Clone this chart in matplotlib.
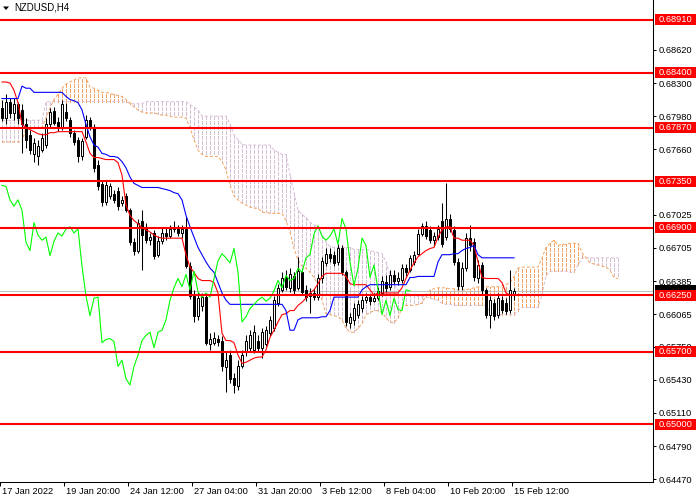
import numpy as np
import matplotlib
matplotlib.use("Agg")
import matplotlib.pyplot as plt
from matplotlib.patches import Rectangle, Polygon
from matplotlib.collections import LineCollection
import matplotlib.transforms as mtransforms

plt.rcParams['font.family'] = ['Liberation Sans', 'DejaVu Sans']

symbol = "NZDUSD,H4"

opens = [0.6806, 0.6796, 0.6812, 0.6801, 0.6810, 0.6804, 0.6790, 0.6780, 0.6761, 0.6759,
         0.6765, 0.6770, 0.6790, 0.6803, 0.6792, 0.6787, 0.6802, 0.6794, 0.6782, 0.6775,
         0.6759, 0.6778, 0.6794, 0.6787, 0.6751, 0.6732, 0.6715, 0.6721, 0.6723, 0.6726,
         0.6714, 0.6721, 0.6707, 0.6676, 0.6668, 0.6697, 0.6690, 0.6678, 0.6685, 0.6664,
         0.6677, 0.6685, 0.6682, 0.6689, 0.6690, 0.6685, 0.6689, 0.6653, 0.6624, 0.6605,
         0.6614, 0.6623, 0.6578, 0.6579, 0.6582, 0.6581, 0.6555, 0.6567, 0.6545, 0.6537,
         0.6556, 0.6570, 0.6574, 0.6572, 0.6581, 0.6574, 0.6578, 0.6588, 0.6593, 0.6617,
         0.6630, 0.6642, 0.6632, 0.6643, 0.6632, 0.6647, 0.6630, 0.6624, 0.6627, 0.6623,
         0.6641, 0.6656, 0.6665, 0.6664, 0.6657, 0.6670, 0.6647, 0.6598, 0.6601, 0.6606,
         0.6612, 0.6620, 0.6623, 0.6619, 0.6622, 0.6627, 0.6638, 0.6633, 0.6644, 0.6639,
         0.6640, 0.6651, 0.6649, 0.6657, 0.6665, 0.6684, 0.6692, 0.6688, 0.6678, 0.6681,
         0.6697, 0.6681, 0.6699, 0.6688, 0.6657, 0.6634, 0.6651, 0.6680, 0.6676, 0.6641,
         0.6654, 0.6630, 0.6606, 0.6617, 0.6606, 0.6620, 0.6617, 0.6611, 0.6626]

highs = [0.6814, 0.6819, 0.6816, 0.6816, 0.6812, 0.6810, 0.6796, 0.6785, 0.6777, 0.6775,
         0.6782, 0.6796, 0.6806, 0.6807, 0.6797, 0.6814, 0.6811, 0.6797, 0.6785, 0.6778,
         0.6777, 0.6799, 0.6797, 0.6790, 0.6756, 0.6735, 0.6735, 0.6733, 0.6727, 0.6729,
         0.6721, 0.6724, 0.6709, 0.6680, 0.6699, 0.6707, 0.6695, 0.6685, 0.6688, 0.6682,
         0.6690, 0.6690, 0.6693, 0.6697, 0.6693, 0.6693, 0.6700, 0.6657, 0.6630, 0.6628,
         0.6627, 0.6625, 0.6588, 0.6589, 0.6586, 0.6585, 0.6570, 0.6572, 0.6550, 0.6562,
         0.6572, 0.6586, 0.6591, 0.6596, 0.6586, 0.6593, 0.6595, 0.6605, 0.6624, 0.6636,
         0.6647, 0.6649, 0.6651, 0.6647, 0.6662, 0.6651, 0.6635, 0.6632, 0.6631, 0.6645,
         0.6662, 0.6670, 0.6670, 0.6668, 0.6674, 0.6673, 0.6649, 0.6608, 0.6617, 0.6620,
         0.6624, 0.6627, 0.6626, 0.6627, 0.6633, 0.6643, 0.6644, 0.6649, 0.6649, 0.6647,
         0.6655, 0.6655, 0.6664, 0.6668, 0.6689, 0.6695, 0.6697, 0.6692, 0.6686, 0.6693,
         0.6714, 0.6733, 0.6703, 0.6692, 0.6661, 0.6657, 0.6685, 0.6693, 0.6680, 0.6659,
         0.6657, 0.6632, 0.6624, 0.6621, 0.6627, 0.6624, 0.6622, 0.6649, 0.6632]

lows = [0.6793, 0.6790, 0.6796, 0.6794, 0.6790, 0.6762, 0.6767, 0.6761, 0.6754, 0.6751,
        0.6763, 0.6767, 0.6787, 0.6789, 0.6784, 0.6785, 0.6793, 0.6778, 0.6770, 0.6754,
        0.6756, 0.6776, 0.6785, 0.6744, 0.6727, 0.6711, 0.6712, 0.6718, 0.6714, 0.6707,
        0.6711, 0.6705, 0.6673, 0.6664, 0.6666, 0.6649, 0.6675, 0.6673, 0.6660, 0.6662,
        0.6674, 0.6678, 0.6680, 0.6686, 0.6682, 0.6680, 0.6651, 0.6621, 0.6599, 0.6601,
        0.6610, 0.6577, 0.6572, 0.6577, 0.6576, 0.6552, 0.6531, 0.6540, 0.6530, 0.6533,
        0.6554, 0.6566, 0.6570, 0.6569, 0.6570, 0.6564, 0.6576, 0.6585, 0.6590, 0.6614,
        0.6628, 0.6630, 0.6628, 0.6626, 0.6630, 0.6625, 0.6619, 0.6608, 0.6620, 0.6620,
        0.6637, 0.6653, 0.6657, 0.6653, 0.6654, 0.6644, 0.6595, 0.6593, 0.6596, 0.6603,
        0.6609, 0.6617, 0.6615, 0.6618, 0.6620, 0.6624, 0.6628, 0.6630, 0.6636, 0.6635,
        0.6637, 0.6643, 0.6647, 0.6654, 0.6664, 0.6682, 0.6679, 0.6675, 0.6672, 0.6678,
        0.6671, 0.6678, 0.6686, 0.6654, 0.6630, 0.6630, 0.6648, 0.6668, 0.6639, 0.6637,
        0.6625, 0.6603, 0.6593, 0.6601, 0.6603, 0.6608, 0.6607, 0.6608, 0.6620]

closes = [0.6796, 0.6812, 0.6801, 0.6810, 0.6796, 0.6790, 0.6775, 0.6765, 0.6772, 0.6769,
          0.6777, 0.6790, 0.6802, 0.6791, 0.6787, 0.6810, 0.6796, 0.6782, 0.6773, 0.6759,
          0.6774, 0.6794, 0.6788, 0.6748, 0.6730, 0.6715, 0.6731, 0.6730, 0.6717, 0.6711,
          0.6717, 0.6707, 0.6676, 0.6668, 0.6695, 0.6683, 0.6678, 0.6681, 0.6663, 0.6677,
          0.6685, 0.6682, 0.6689, 0.6691, 0.6685, 0.6689, 0.6653, 0.6624, 0.6605, 0.6622,
          0.6623, 0.6579, 0.6582, 0.6583, 0.6580, 0.6556, 0.6562, 0.6544, 0.6538, 0.6556,
          0.6567, 0.6581, 0.6586, 0.6589, 0.6574, 0.6589, 0.6591, 0.6601, 0.6620, 0.6632,
          0.6641, 0.6633, 0.6645, 0.6630, 0.6648, 0.6628, 0.6623, 0.6627, 0.6623, 0.6641,
          0.6658, 0.6665, 0.6661, 0.6656, 0.6670, 0.6647, 0.6599, 0.6604, 0.6612, 0.6616,
          0.6620, 0.6623, 0.6619, 0.6622, 0.6629, 0.6639, 0.6632, 0.6644, 0.6639, 0.6641,
          0.6651, 0.6647, 0.6661, 0.6664, 0.6684, 0.6692, 0.6682, 0.6678, 0.6682, 0.6689,
          0.6674, 0.6699, 0.6689, 0.6657, 0.6634, 0.6651, 0.6680, 0.6673, 0.6642, 0.6654,
          0.6630, 0.6606, 0.6620, 0.6605, 0.6622, 0.6611, 0.6610, 0.6630, 0.6629]

tenkan = [0.6831, 0.6831, 0.6830, 0.6823, 0.6811, 0.6790, 0.6787, 0.6785, 0.6783, 0.6781,
          0.6780, 0.6780, 0.6782, 0.6782, 0.6783, 0.6783, 0.6783, 0.6783, 0.6783, 0.6783,
          0.6783, 0.6773, 0.6762, 0.6758, 0.6758, 0.6757, 0.6756, 0.6756, 0.6756, 0.6753,
          0.6741, 0.6712, 0.6702, 0.6697, 0.6694, 0.6690, 0.6688, 0.6686, 0.6683, 0.6681,
          0.6680, 0.6680, 0.6680, 0.6680, 0.6680, 0.6680, 0.6664, 0.6652, 0.6647, 0.6641,
          0.6639, 0.6639, 0.6639, 0.6637, 0.6627, 0.6588, 0.6581, 0.6581, 0.6579, 0.6567,
          0.6559, 0.6560, 0.6562, 0.6564, 0.6565, 0.6565, 0.6572, 0.6584, 0.6591, 0.6599,
          0.6606, 0.6607, 0.6610, 0.6610, 0.6615, 0.6618, 0.6622, 0.6627, 0.6630, 0.6636,
          0.6643, 0.6646, 0.6646, 0.6646, 0.6646, 0.6646, 0.6643, 0.6636, 0.6635, 0.6635,
          0.6635, 0.6635, 0.6630, 0.6625, 0.6627, 0.6627, 0.6627, 0.6627, 0.6627, 0.6627,
          0.6632, 0.6641, 0.6649, 0.6656, 0.6662, 0.6665, 0.6668, 0.6670, 0.6671, 0.6681,
          0.6688, 0.6691, 0.6691, 0.6680, 0.6680, 0.6678, 0.6678, 0.6678, 0.6673, 0.6657,
          0.6642, 0.6641, 0.6641, 0.6641, 0.6641, 0.6637, 0.6627, 0.6625, 0.6625]

kijun = [0.6815, 0.6815, 0.6815, 0.6815, 0.6815, 0.6827, 0.6825, 0.6825, 0.6821, 0.6821,
         0.6821, 0.6821, 0.6821, 0.6821, 0.6821, 0.6821, 0.6817, 0.6814, 0.6813, 0.6811,
         0.6804, 0.6790, 0.6778, 0.6770, 0.6768, 0.6762, 0.6761, 0.6759, 0.6759, 0.6758,
         0.6754, 0.6748, 0.6739, 0.6733, 0.6731, 0.6729, 0.6729, 0.6729, 0.6729, 0.6729,
         0.6728, 0.6727, 0.6726, 0.6724, 0.6723, 0.6717, 0.6702, 0.6691, 0.6681, 0.6671,
         0.6664, 0.6657, 0.6651, 0.6647, 0.6637, 0.6627, 0.6620, 0.6616, 0.6616, 0.6616,
         0.6616, 0.6616, 0.6616, 0.6616, 0.6616, 0.6616, 0.6616, 0.6616, 0.6616, 0.6616,
         0.6616, 0.6610, 0.6591, 0.6591, 0.6601, 0.6603, 0.6603, 0.6603, 0.6603, 0.6603,
         0.6604, 0.6604, 0.6610, 0.6623, 0.6623, 0.6623, 0.6623, 0.6623, 0.6623, 0.6623,
         0.6630, 0.6633, 0.6635, 0.6635, 0.6635, 0.6635, 0.6635, 0.6635, 0.6635, 0.6635,
         0.6635, 0.6635, 0.6642, 0.6642, 0.6643, 0.6643, 0.6643, 0.6643, 0.6643, 0.6657,
         0.6664, 0.6664, 0.6664, 0.6665, 0.6665, 0.6668, 0.6670, 0.6671, 0.6673, 0.6664,
         0.6661, 0.6661, 0.6661, 0.6661, 0.6661, 0.6661, 0.6661, 0.6661, 0.6661]

senkou_a = [0.6773, 0.6773, 0.6773, 0.6773, 0.6773, 0.6773, 0.6787, 0.6787, 0.6787, 0.6787,
            0.6787, 0.6796, 0.6806, 0.6814, 0.6819, 0.6825, 0.6829, 0.6831, 0.6833, 0.6835,
            0.6835, 0.6835, 0.6826, 0.6825, 0.6823, 0.6821, 0.6821, 0.6820, 0.6819, 0.6818,
            0.6817, 0.6814, 0.6811, 0.6807, 0.6804, 0.6802, 0.6801, 0.6801, 0.6801, 0.6800,
            0.6799, 0.6799, 0.6798, 0.6797, 0.6797, 0.6797, 0.6796, 0.6787, 0.6775, 0.6765,
            0.6761, 0.6759, 0.6759, 0.6759, 0.6759, 0.6754, 0.6746, 0.6731, 0.6721, 0.6717,
            0.6714, 0.6712, 0.6710, 0.6709, 0.6709, 0.6705, 0.6705, 0.6704, 0.6704, 0.6704,
            0.6704, 0.6697, 0.6686, 0.6670, 0.6659, 0.6653, 0.6651, 0.6647, 0.6642, 0.6635,
            0.6620, 0.6607, 0.6606, 0.6605, 0.6604, 0.6601, 0.6593, 0.6589, 0.6589, 0.6593,
            0.6597, 0.6606, 0.6608, 0.6610, 0.6610, 0.6608, 0.6603, 0.6599, 0.6598, 0.6603,
            0.6613, 0.6615, 0.6615, 0.6615, 0.6616, 0.6617, 0.6625, 0.6630, 0.6631, 0.6632,
            0.6632, 0.6632, 0.6631, 0.6631, 0.6630, 0.6630, 0.6630, 0.6631, 0.6632, 0.6633,
            0.6633, 0.6633, 0.6633, 0.6633, 0.6633, 0.6634, 0.6635, 0.6637, 0.6643, 0.6651,
            0.6652, 0.6652, 0.6652, 0.6652, 0.6652, 0.6661, 0.6671, 0.6675, 0.6678, 0.6673,
            0.6674, 0.6674, 0.6675, 0.6675, 0.6675, 0.6666, 0.6661, 0.6656, 0.6655, 0.6654,
            0.6653, 0.6652, 0.6649, 0.6642, 0.6641]

senkou_b = [0.6794, 0.6794, 0.6794, 0.6794, 0.6794, 0.6794, 0.6794, 0.6794, 0.6794, 0.6794,
            0.6794, 0.6812, 0.6812, 0.6812, 0.6812, 0.6812, 0.6812, 0.6812, 0.6812, 0.6812,
            0.6812, 0.6812, 0.6812, 0.6812, 0.6812, 0.6812, 0.6812, 0.6812, 0.6812, 0.6812,
            0.6812, 0.6812, 0.6810, 0.6810, 0.6810, 0.6810, 0.6812, 0.6812, 0.6812, 0.6812,
            0.6812, 0.6812, 0.6812, 0.6812, 0.6812, 0.6812, 0.6812, 0.6809, 0.6807, 0.6804,
            0.6798, 0.6798, 0.6798, 0.6798, 0.6798, 0.6798, 0.6798, 0.6790, 0.6780, 0.6775,
            0.6771, 0.6770, 0.6770, 0.6770, 0.6770, 0.6770, 0.6770, 0.6770, 0.6765, 0.6763,
            0.6761, 0.6761, 0.6741, 0.6724, 0.6707, 0.6703, 0.6700, 0.6695, 0.6693, 0.6691,
            0.6683, 0.6676, 0.6672, 0.6671, 0.6671, 0.6671, 0.6671, 0.6671, 0.6669, 0.6669,
            0.6669, 0.6669, 0.6668, 0.6667, 0.6666, 0.6665, 0.6657, 0.6644, 0.6635, 0.6630,
            0.6628, 0.6627, 0.6626, 0.6625, 0.6624, 0.6624, 0.6623, 0.6622, 0.6621, 0.6620,
            0.6617, 0.6616, 0.6616, 0.6615, 0.6615, 0.6615, 0.6615, 0.6615, 0.6615, 0.6615,
            0.6615, 0.6615, 0.6608, 0.6606, 0.6606, 0.6606, 0.6606, 0.6606, 0.6606, 0.6610,
            0.6613, 0.6613, 0.6613, 0.6613, 0.6613, 0.6625, 0.6644, 0.6648, 0.6648, 0.6648,
            0.6648, 0.6648, 0.6647, 0.6647, 0.6654, 0.6661, 0.6661, 0.6661, 0.6661, 0.6661,
            0.6661, 0.6661, 0.6661, 0.6661, 0.6661]

chikou_shift = 26
levels = [0.6891, 0.6840, 0.6787, 0.6735, 0.6690, 0.6625, 0.6570, 0.6500]
bid = 0.6629
y_ticks = [0.64470, 0.64790, 0.65110, 0.65430, 0.65750, 0.66065, 0.66385,
           0.66705, 0.67025, 0.67660, 0.67980, 0.68300, 0.68620]
x_tick_bars = [0, 16, 32, 48, 64, 80, 96, 112, 128]
x_tick_labels = ["17 Jan 2022", "19 Jan 20:00", "24 Jan 12:00", "27 Jan 04:00",
                 "31 Jan 20:00", "3 Feb 12:00", "8 Feb 04:00", "10 Feb 20:00",
                 "15 Feb 12:00"]

# ---------------- figure ----------------
W, H = 700, 500
PW, PH = 653, 482
fig = plt.figure(figsize=(W / 100, H / 100), dpi=100)
fig.patch.set_facecolor('white')
ax = fig.add_axes([0, (H - PH) / H, PW / W, PH / H])
ax.set_facecolor('white')
bar_px = 4.0
x0 = -0.5
ax.set_xlim(x0, x0 + PW / bar_px)
y_lo, y_hi = 0.64442, 0.69103
ax.set_ylim(y_lo, y_hi)
ppx = (y_hi - y_lo) / PH  # price per pixel

FS = 6.7
ONE_PX = 0.72
DOT = (0, (3, 2))
SANDY = '#F4A460'
THISTLE = '#D8BFD8'

# cloud hatch
A = np.array(senkou_a)
B = np.array(senkou_b)
xc = np.arange(len(A))
segs = [((x, b), (x, a)) for x, a, b in zip(xc, A, B)]
cols = [SANDY if a >= b else THISTLE for a, b in zip(A, B)]
ax.add_collection(LineCollection(segs, colors=cols, linewidths=ONE_PX,
                                 linestyles=[DOT], zorder=1, antialiaseds=False))
ax.plot(xc, A, color=SANDY, lw=ONE_PX, ls=DOT, zorder=1.2)
ax.plot(xc, B, color=THISTLE, lw=ONE_PX, ls=DOT, zorder=1.1)

# bid line
ax.axhline(bid, color='#C0C0C0', lw=ONE_PX, zorder=2, antialiased=False)

# candles
o = np.array(opens); h = np.array(highs); l = np.array(lows); c = np.array(closes)
h = np.maximum(h, np.maximum(o, c))
l = np.minimum(l, np.minimum(o, c))
xb = np.arange(len(o))
ax.vlines(xb, l, h, color='black', lw=0.75, zorder=3)
body_lo = np.minimum(o, c)
body_h = np.maximum(np.abs(c - o), ppx * 0.6)
face = ['white' if cc > oo else 'black' for oo, cc in zip(o, c)]
ax.bar(xb, body_h, bottom=body_lo, width=0.5, color=face, edgecolor='black',
       linewidth=0.72, zorder=3.5)

# ichimoku lines
ax.plot(np.arange(len(tenkan)), tenkan, color='#FF0000', lw=0.8, zorder=4)
ax.plot(np.arange(len(kijun)), kijun, color='#0000FF', lw=0.8, zorder=4)
chikou = c[chikou_shift:]
ax.plot(np.arange(len(chikou)), chikou, color='#00FF00', lw=0.8, zorder=4)

# horizontal levels
for lv in levels:
    ax.axhline(lv, color='#FF0000', lw=1.5, zorder=6)

# axes styling
for s in ['top', 'left']:
    ax.spines[s].set_visible(False)
for s in ['right', 'bottom']:
    ax.spines[s].set_color('black')
    ax.spines[s].set_linewidth(0.75)
ax.yaxis.tick_right()
ax.set_yticks(y_ticks)
ax.set_yticklabels([f"{v:.5f}" for v in y_ticks])
ax.tick_params(axis='y', length=2.2, width=0.72, pad=2.0, labelsize=FS,
               colors='black')
ax.set_xticks([b + x0 for b in x_tick_bars])
ax.tick_params(axis='x', length=2.9, width=0.72, labelbottom=False, colors='black')

tx = mtransforms.blended_transform_factory(ax.transData, ax.transAxes)
for b, lab in zip(x_tick_bars, x_tick_labels):
    ax.text(b + x0 + 0.5, -10.0 / PH, lab, transform=tx, ha='left', va='center',
            fontsize=FS, color='black', clip_on=False)

# price labels on the right axis
ty = mtransforms.blended_transform_factory(ax.transAxes, ax.transData)
box_x = 655.0 / PW
box_w = 41.0 / PW
box_h = 11.0 * ppx
# current-price marker (mostly hidden behind the 0.66250 label, as in the source)
ax.add_patch(Rectangle((box_x, bid - box_h / 2), box_w, box_h, transform=ty,
                       fc='black', ec='none', clip_on=False, zorder=8))
for lv in levels:
    ax.add_patch(Rectangle((box_x, lv - box_h / 2), box_w, box_h, transform=ty,
                           fc='#FF0000', ec='none', clip_on=False, zorder=10))
    ax.text(box_x + box_w / 2, lv, f"{lv:.5f}", transform=ty, ha='center',
            va='center', fontsize=FS, color='white', clip_on=False, zorder=11)

# title
fig.text(14 / W, 1 - 8 / H, symbol, ha='left', va='center', fontsize=FS + 0.2,
         color='black')
tri = Polygon([[3 / W, 1 - 6.5 / H], [9 / W, 1 - 6.5 / H], [6 / W, 1 - 10 / H]],
              closed=True, fc='black', ec='none', transform=fig.transFigure)
fig.add_artist(tri)

fig.savefig('out.png', dpi=100)
